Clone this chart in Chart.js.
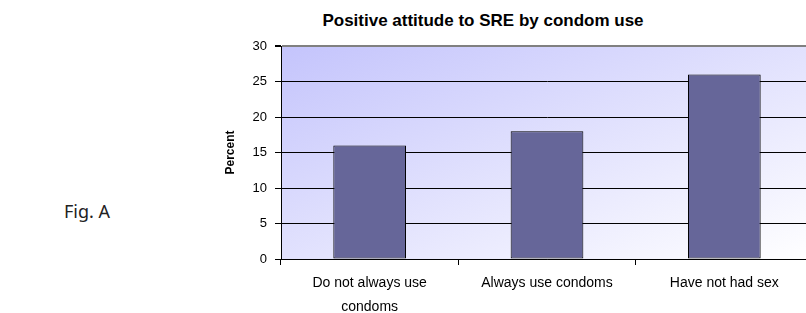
<!DOCTYPE html>
<html>
<head>
<meta charset="utf-8">
<script src="https://cdn.jsdelivr.net/npm/chart.js@4.4.1/dist/chart.umd.min.js"></script>
<style>
    body { margin: 0; width: 806px; height: 313px; overflow: hidden; background: #fff; position: relative; }
    #fig { position: absolute; left: 64px; top: 199px; font: 18px "Noto Sans", sans-serif; color: #222; }
    #title { position: absolute; left: 283px; width: 400px; top: 11px; text-align: center;
             font: bold 17px Arial, "Liberation Sans", sans-serif; color: #000; }
    #wrap { position: absolute; left: 215px; top: 0; width: 600px; height: 313px; }
</style>
</head>
<body>
<div id="fig">Fig. A</div>
<div id="title">Positive attitude to SRE by condom use</div>
<div id="wrap"><canvas id="sreChart"></canvas></div>
<script>
const categories = [['Do not always use', 'condoms'], 'Always use condoms', 'Have not had sex'];
const percentValues = [16, 18, 26];
const yTicks = [0, 5, 10, 15, 20, 25, 30];

// plot background: lavender in the top-left corner fading to white in the bottom-right
const plotBackground = {
    id: 'plotBackground',
    beforeDraw(chart) {
        const { ctx, chartArea: a } = chart;
        const w = a.right - a.left, h = a.bottom - a.top;
        const k = 2 * w * h / (w * w + h * h);
        const g = ctx.createLinearGradient(a.left, a.top, a.left + k * h, a.top + k * w);
        g.addColorStop(0, '#c4c4fc');
        g.addColorStop(1, '#ffffff');
        ctx.save();
        ctx.fillStyle = g;
        ctx.fillRect(a.left, a.top, w, h);
        ctx.restore();
    }
};

const ctx = document.getElementById('sreChart').getContext('2d');
new Chart(ctx, {
    type: 'bar',
    data: {
        labels: categories,
        datasets: [{
            label: 'Percent',
            data: percentValues,
            backgroundColor: '#666699',
            borderColor: '#000000',
            borderWidth: 1,
            borderSkipped: false,
            barPercentage: 0.41,
            categoryPercentage: 1
        }]
    },
    options: {
        responsive: true,
        maintainAspectRatio: false,
        animation: false,
        layout: { padding: { top: 46, right: 2, left: 0, bottom: 0 } },
        plugins: {
            legend: { display: false },
            tooltip: { enabled: false }
        },
        scales: {
            x: {
                offset: true,
                afterFit: s => { s.height = 54; },
                grid: { drawOnChartArea: false, offset: true, tickLength: 6, color: '#000' },
                border: { color: '#000', width: 1 },
                ticks: {
                    color: '#000',
                    padding: 7,
                    maxRotation: 0,
                    font: { family: 'Arial, "Liberation Sans", sans-serif', size: 14, lineHeight: 1.65 }
                }
            },
            y: {
                min: 0,
                max: 30,
                afterFit: s => { s.width = 66; },
                afterBuildTicks: s => { s.ticks = yTicks.map(v => ({ value: v })); },
                grid: {
                    tickLength: 6,
                    color: c => c.tick && c.tick.value === 30 ? '#808080' : '#000',
                    lineWidth: c => c.tick && c.tick.value === 30 ? 2 : 1,
                    tickColor: '#000'
                },
                border: { color: '#000', width: 1 },
                ticks: {
                    color: '#000',
                    padding: 8,
                    font: { family: 'Arial, "Liberation Sans", sans-serif', size: 13 }
                },
                title: {
                    display: true,
                    text: 'Percent',
                    color: '#000',
                    padding: { top: 8, bottom: 0 },
                    font: { family: 'Arial, "Liberation Sans", sans-serif', size: 12, weight: 'bold' }
                }
            }
        }
    },
    plugins: [plotBackground]
});
</script>
</body>
</html>
